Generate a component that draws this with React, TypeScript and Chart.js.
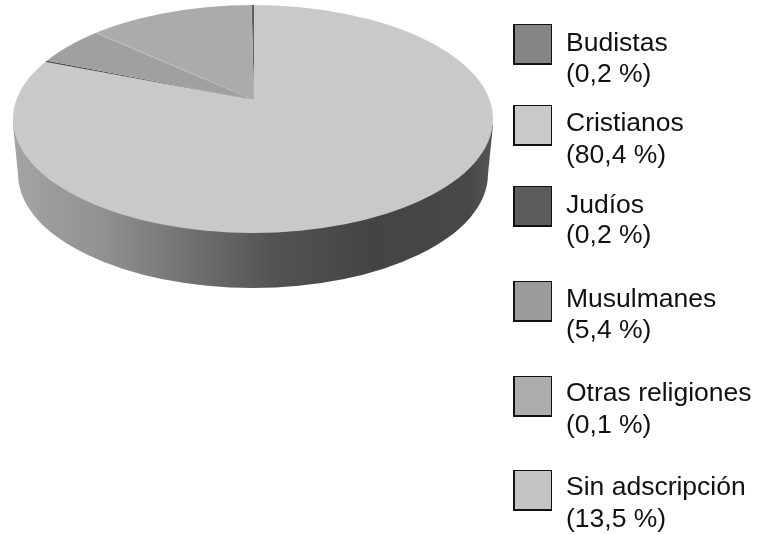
import React, { useEffect, useRef } from "react";
import { Chart, registerables } from "chart.js";

Chart.register(...registerables);

const categories = ["Budistas", "Cristianos", "Judíos", "Musulmanes", "Otras religiones", "Sin adscripción"];
const shares = [0.2, 80.4, 0.2, 5.4, 0.1, 13.5];
const shareLabels = ["(0,2 %)", "(80,4 %)", "(0,2 %)", "(5,4 %)", "(0,1 %)", "(13,5 %)"];
const sliceColors = ["#5e5e5e", "#c9c9c9", "#4c4c4c", "#a0a0a0", "#a6a6a6", "#ababab"];
const swatchColors = ["#858585", "#c9c9c9", "#5c5c5c", "#9c9c9c", "#adadad", "#c4c4c4"];

// legend layout (page pixels)
const swatchTops = [24, 105, 186, 281, 376, 470];
const firstBaselines = [51, 131, 213, 307, 401, 495];
const secondBaselines = [82, 163, 243, 338, 433, 527];

const pie3d = {
  id: "pie3d",
  beforeDatasetsDraw(chart: any) {
    const ctx = chart.ctx as CanvasRenderingContext2D;
    const meta = chart.getDatasetMeta(0);
    const { x: cx, y: cy } = meta.data[0];

    // side wall
    const grad = ctx.createLinearGradient(13, 0, 493, 0);
    grad.addColorStop(0, "#a4a4a4");
    grad.addColorStop(0.18, "#929292");
    grad.addColorStop(0.38, "#6f6f6f");
    grad.addColorStop(0.55, "#525252");
    grad.addColorStop(0.75, "#444444");
    grad.addColorStop(0.95, "#484848");
    grad.addColorStop(1, "#565656");
    ctx.save();
    ctx.filter = "blur(0.6px)";
    ctx.beginPath();
    ctx.moveTo(13, 125);
    ctx.lineTo(18, 174);
    ctx.ellipse(253, 174, 235, 114, 0, Math.PI, 0, true);
    ctx.lineTo(493, 125);
    ctx.closePath();
    ctx.fillStyle = grad;
    ctx.fill();
    ctx.restore();

    // top face: wedges fan out from the apex and are trimmed by the rim
    ctx.save();
    ctx.beginPath();
    ctx.ellipse(253, 119, 240, 114, 0, 0, Math.PI * 2);
    ctx.clip();
    ctx.translate(254, 100);
    ctx.scale(1, 0.5);
    ctx.translate(-cx, -cy);
    meta.controller.draw();
    ctx.restore();
    return false;
  },
};

export default function App() {
  const ref = useRef<HTMLCanvasElement>(null);
  useEffect(() => {
    const chart = new Chart(ref.current!, {
      type: "pie",
      data: {
        labels: categories,
        datasets: [{ data: shares, backgroundColor: sliceColors, borderWidth: 0 }],
      },
      options: {
        responsive: false,
        animation: false,
        rotation: -(shares[0] / shares.reduce((a, b) => a + b, 0)) * 360,
        layout: { padding: 0 },
        plugins: { legend: { display: false }, tooltip: { enabled: false } },
      },
      plugins: [pie3d],
    } as any);
    return () => chart.destroy();
  }, []);

  const text: React.CSSProperties = {
    position: "absolute",
    left: 566,
    fontFamily: '"Liberation Sans", Arial, sans-serif',
    fontSize: 26.5,
    lineHeight: "30px",
    color: "#111",
    whiteSpace: "nowrap",
  };

  return (
    <div style={{ position: "absolute", left: 0, top: 0, width: 757, height: 535, background: "#fff", overflow: "hidden" }}>
      <canvas ref={ref} width={757} height={535} style={{ position: "absolute", left: 0, top: 0, width: 757, height: 535, filter: "blur(0.5px)" }} />
      {categories.map((c, i) => (
        <React.Fragment key={c}>
          <div
            style={{
              position: "absolute",
              left: 513,
              top: swatchTops[i],
              width: 39,
              height: 41,
              boxSizing: "border-box",
              background: swatchColors[i],
              borderTop: "1px solid #111",
              borderRight: "1px solid #111",
              borderLeft: "2px solid #111",
              borderBottom: "2px solid #111",
            }}
          />
          <div style={{ ...text, top: firstBaselines[i] - 24 }}>{c}</div>
          <div style={{ ...text, top: secondBaselines[i] - 24 }}>{shareLabels[i]}</div>
        </React.Fragment>
      ))}
    </div>
  );
}
